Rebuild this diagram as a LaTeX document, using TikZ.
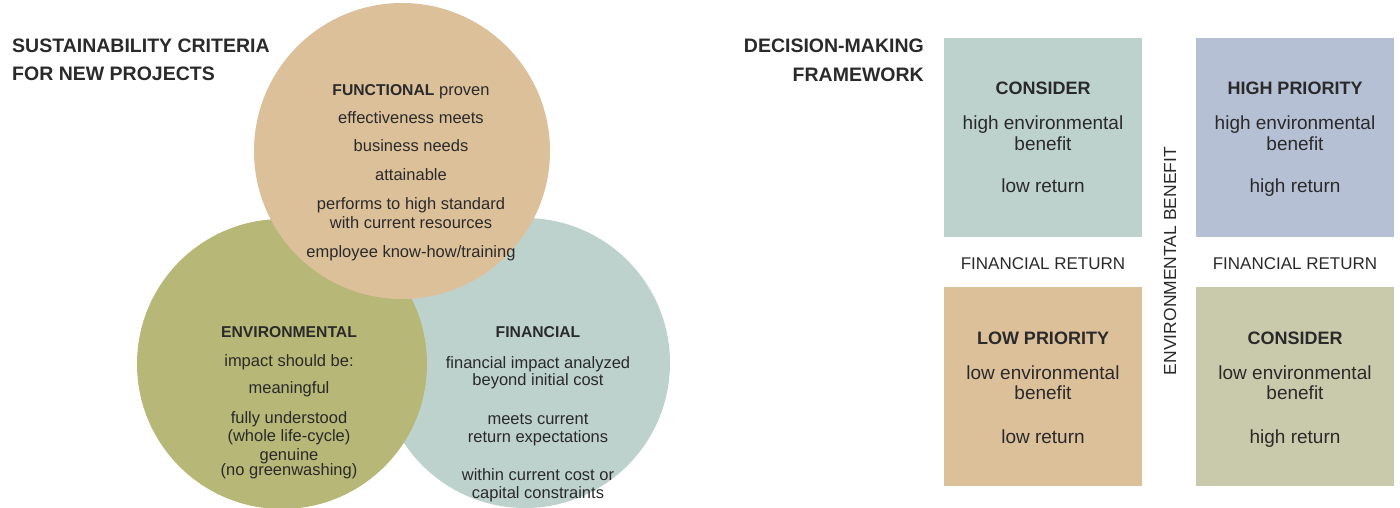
\documentclass[tikz,border=0pt]{standalone}
\usepackage{fontspec}
\setmainfont{Liberation Sans}
\definecolor{cfun}{HTML}{DCC09A}
\definecolor{cenv}{HTML}{B7B777}
\definecolor{cfin}{HTML}{BED2CD}
\definecolor{chigh}{HTML}{B5C0D4}
\definecolor{cbr}{HTML}{C9CAAB}
\definecolor{ink}{HTML}{2A2A2A}
\begin{document}
\begin{tikzpicture}[x=1pt,y=-1pt,
  disc/.style={circle, inner sep=0pt, draw=none},
  quad/.style={rectangle, inner sep=0pt, draw=none, minimum width=198pt, minimum height=199pt, anchor=north west},
  body/.style={font=\fontsize{16.5}{19}\selectfont, text=ink, anchor=base, inner sep=0pt},
  bhead/.style={font=\bfseries\fontsize{15.7}{19}\selectfont, text=ink, anchor=base, inner sep=0pt},
  title/.style={font=\bfseries\fontsize{19.5}{24}\selectfont, text=ink, inner sep=0pt},
  qhead/.style={font=\bfseries\fontsize{18}{21}\selectfont, text=ink, anchor=base, inner sep=0pt},
  qbody/.style={font=\fontsize{19}{21}\selectfont, text=ink, anchor=base, inner sep=0pt},
  axislabel/.style={font=\fontsize{17}{20}\selectfont, text=ink, inner sep=0pt}
]
\useasboundingbox (0,0) rectangle (1400,508);

% circles
\node[disc, fill=cfin, minimum size=290pt] (fin) at (525,363) {};
\node[disc, fill=cenv, minimum size=290pt] (env) at (282,364) {};
\node[disc, fill=cfun, minimum size=296pt] (fun) at (402,151) {};

% titles
\node[title, anchor=base west] (t1) at (12,53) {SUSTAINABILITY CRITERIA};
\node[title, anchor=base west] (t2) at (12,81) {FOR NEW PROJECTS};
\node[title, anchor=base east] (t3) at (924,53) {DECISION-MAKING};
\node[title, anchor=base east] (t4) at (924,82) {FRAMEWORK};

% functional
\node[body] (fu1) at (411,96) {\textbf{\fontsize{15.7}{19}\selectfont FUNCTIONAL} proven};
\node[body] (fu2) at (411,124) {effectiveness meets};
\node[body] (fu3) at (411,152) {business needs};
\node[body] (fu4) at (411,180) {attainable};
\node[body] (fu5) at (411,209) {performs to high standard};
\node[body] (fu6) at (411,228) {with current resources};
\node[body] (fu7) at (411,257) {employee know-how/training};

% environmental
\node[bhead] (en0) at (289,337) {ENVIRONMENTAL};
\node[body] (en1) at (289,366) {impact should be:};
\node[body] (en2) at (289,393) {meaningful};
\node[body] (en3) at (289,423) {fully understood};
\node[body] (en4) at (289,441) {(whole life-cycle)};
\node[body] (en5) at (289,460) {genuine};
\node[body] (en6) at (289,475) {(no greenwashing)};

% financial
\node[bhead] (fi0) at (538,337) {FINANCIAL};
\node[body] (fi1) at (538,368) {financial impact analyzed};
\node[body] (fi2) at (538,385) {beyond initial cost};
\node[body] (fi3) at (538,424) {meets current};
\node[body] (fi4) at (538,442) {return expectations};
\node[body] (fi5) at (538,480) {within current cost or};
\node[body] (fi6) at (538,498) {capital constraints};

% quadrants
\node[quad, fill=cfin] (qtl) at (944,38) {};
\node[quad, fill=chigh] (qtr) at (1196,38) {};
\node[quad, fill=cfun] (qbl) at (944,287) {};
\node[quad, fill=cbr] (qbr) at (1196,287) {};

\node[qhead] (tlh) at (1043,95) {CONSIDER};
\node[qbody] (tl1) at (1043,130) {high environmental};
\node[qbody] (tl2) at (1043,150) {benefit};
\node[qbody] (tl3) at (1043,193) {low return};

\node[qhead] (trh) at (1295,95) {HIGH PRIORITY};
\node[qbody] (tr1) at (1295,130) {high environmental};
\node[qbody] (tr2) at (1295,150) {benefit};
\node[qbody] (tr3) at (1295,193) {high return};

\node[qhead] (blh) at (1043,344) {LOW PRIORITY};
\node[qbody] (bl1) at (1043,379) {low environmental};
\node[qbody] (bl2) at (1043,399) {benefit};
\node[qbody] (bl3) at (1043,443) {low return};

\node[qhead] (brh) at (1295,344) {CONSIDER};
\node[qbody] (br1) at (1295,379) {low environmental};
\node[qbody] (br2) at (1295,399) {benefit};
\node[qbody] (br3) at (1295,443) {high return};

% axis labels
\node[axislabel, anchor=base] (fr1) at (1043,269) {FINANCIAL RETURN};
\node[axislabel, anchor=base] (fr2) at (1295,269) {FINANCIAL RETURN};
\node[axislabel, rotate=90, font=\fontsize{17.5}{20}\selectfont] (eb) at (1170,261) {ENVIRONMENTAL BENEFIT};

\end{tikzpicture}
\end{document}
